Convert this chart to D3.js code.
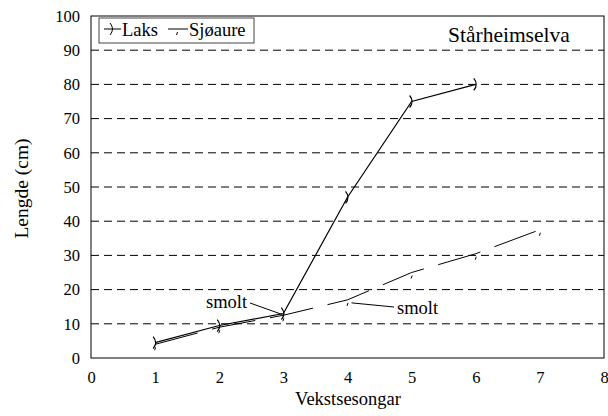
<!DOCTYPE html>
<html>
<head>
<meta charset="utf-8">
<script src="https://cdn.jsdelivr.net/npm/d3@7"></script>
<style>
  body { margin: 0; background: #fff; }
  svg text { font-family: "Liberation Serif", "Times New Roman", serif !important; fill: #000; }
</style>
</head>
<body>
<script>
var w = 608;
var h = 416;
var margin = {top: 16, right: 4, bottom: 58, left: 91};

// data
var seasons = [1, 2, 3, 4, 5, 6, 7];
var laks = [4.5, 9.5, 13, 47, 75, 80];
var sjoaure = [4, 9, 12.5, 17, 25, 30.5, 37.5];
var xTicks = [0, 1, 2, 3, 4, 5, 6, 7, 8];
var yTicks = [0, 10, 20, 30, 40, 50, 60, 70, 80, 90, 100];

var laksData = laks.map(function(v, i){ return [seasons[i], v]; });
var sjoData = sjoaure.map(function(v, i){ return [seasons[i], v]; });

var svg = d3.select('body')
  .append('svg')
  .attr('width', w)
  .attr('height', h);

var x = d3.scaleLinear().domain([0, 8]).range([margin.left, w - margin.right]);
var y = d3.scaleLinear().domain([0, 100]).range([h - margin.bottom, margin.top]);

// dashed grid
svg.append('g')
  .selectAll('line')
  .data(yTicks.filter(function(d){ return d > 0 && d < 100; }))
  .enter()
  .append('line')
  .attr('x1', x(0)).attr('x2', x(8))
  .attr('y1', function(d){ return y(d); })
  .attr('y2', function(d){ return y(d); })
  .attr('stroke', '#000')
  .attr('stroke-width', 1)
  .attr('stroke-dasharray', '8,5');

// frame
svg.append('rect')
  .attr('x', x(0)).attr('y', y(100))
  .attr('width', x(8) - x(0)).attr('height', y(0) - y(100))
  .attr('fill', 'none')
  .attr('stroke', '#000');

// axes
var xAxis = svg.append('g')
  .attr('transform', 'translate(0,' + y(0) + ')')
  .call(d3.axisBottom(x).tickValues(xTicks).tickSize(0).tickPadding(13).tickFormat(d3.format('d')));
var yAxis = svg.append('g')
  .attr('transform', 'translate(' + x(0) + ',0)')
  .call(d3.axisLeft(y).tickValues(yTicks).tickSize(0).tickPadding(11).tickFormat(d3.format('d')));
[xAxis, yAxis].forEach(function(a){
  a.attr('font-family', null).attr('font-size', null);
  a.select('.domain').remove();
  a.selectAll('text')
    .style('font-size', '16.5px')
    .attr('fill', '#000');
});

var line = d3.line()
  .x(function(d){ return x(d[0]); })
  .y(function(d){ return y(d[1]); });

// Sjøaure, long dashes
svg.append('path')
  .datum(sjoData)
  .attr('d', line)
  .attr('fill', 'none')
  .attr('stroke', '#000')
  .attr('stroke-width', 1)
  .attr('stroke-dasharray', '44,15');

// Laks, solid
svg.append('path')
  .datum(laksData)
  .attr('d', line)
  .attr('fill', 'none')
  .attr('stroke', '#000')
  .attr('stroke-width', 1.2);

// markers
function laksMark(px, py){
  return 'M' + (px - 2) + ',' + (py - 6) + ' Q' + (px + 3) + ',' + py + ' ' + (px - 2) + ',' + (py + 6);
}
function sjoMark(px, py){
  return 'M' + (px + 0.5) + ',' + (py + 3) + ' L' + (px - 0.5) + ',' + (py + 6);
}

svg.append('g')
  .selectAll('path')
  .data(laksData)
  .enter()
  .append('path')
  .attr('d', function(d){ return laksMark(x(d[0]), y(d[1])); })
  .attr('fill', 'none')
  .attr('stroke', '#000')
  .attr('stroke-width', 1.2);

svg.append('g')
  .selectAll('path')
  .data(sjoData)
  .enter()
  .append('path')
  .attr('d', function(d){ return sjoMark(x(d[0]), y(d[1])); })
  .attr('fill', 'none')
  .attr('stroke', '#000')
  .attr('stroke-width', 1);

// smolt labels
var p1 = laksData[2];
var p2 = sjoData[3];
svg.append('line')
  .attr('x1', 250).attr('y1', 303)
  .attr('x2', x(p1[0]) - 1).attr('y2', y(p1[1]) + 1)
  .attr('stroke', '#000');
svg.append('text')
  .attr('x', 206).attr('y', 308)
  .style('font-size', '18.5px')
  .text('smolt');
svg.append('line')
  .attr('x1', x(p2[0]) + 4).attr('y1', y(p2[1]) + 3)
  .attr('x2', 394).attr('y2', 307)
  .attr('stroke', '#000');
svg.append('text')
  .attr('x', 397).attr('y', 314)
  .style('font-size', '18.5px')
  .text('smolt');

// title inside plot
svg.append('text')
  .attr('x', 448).attr('y', 42)
  .style('font-size', '21.5px')
  .text('Stårheimselva');

// legend
var lg = svg.append('g');
lg.append('rect')
  .attr('x', 99).attr('y', 18)
  .attr('width', 155).attr('height', 25)
  .attr('fill', '#fff')
  .attr('stroke', '#444');
lg.append('line')
  .attr('x1', 104).attr('x2', 121).attr('y1', 29).attr('y2', 29)
  .attr('stroke', '#000');
lg.append('path')
  .attr('d', laksMark(112, 29))
  .attr('fill', 'none').attr('stroke', '#000');
lg.append('text')
  .attr('x', 122).attr('y', 36)
  .style('font-size', '18.5px')
  .text('Laks');
lg.append('line')
  .attr('x1', 168).attr('x2', 188).attr('y1', 29).attr('y2', 29)
  .attr('stroke', '#000');
lg.append('path')
  .attr('d', sjoMark(177, 29))
  .attr('fill', 'none').attr('stroke', '#000');
lg.append('text')
  .attr('x', 189).attr('y', 36)
  .style('font-size', '18.5px')
  .text('Sjøaure');

// axis titles
svg.append('text')
  .attr('x', 348).attr('y', 405)
  .attr('text-anchor', 'middle')
  .style('font-size', '18.5px')
  .text('Vekstsesongar');
svg.append('text')
  .attr('transform', 'translate(28,' + 188.5 + ') rotate(-90)')
  .attr('text-anchor', 'middle')
  .style('font-size', '19.5px')
  .text('Lengde (cm)');
</script>
</body>
</html>
